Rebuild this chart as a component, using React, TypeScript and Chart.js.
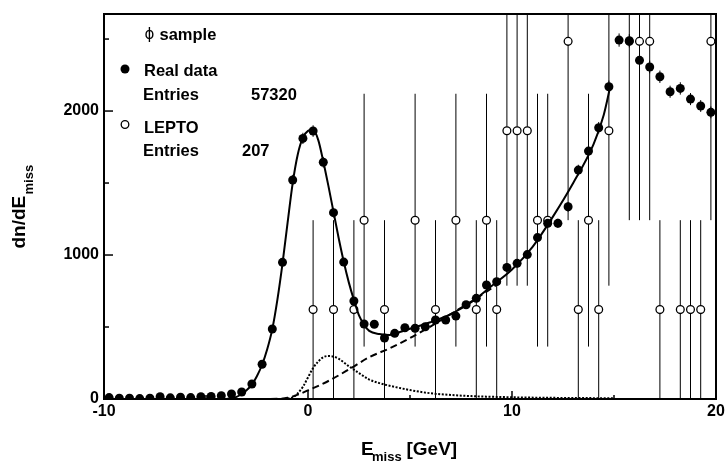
import React, { useEffect, useRef } from "react";
import { Chart, registerables } from "chart.js";

Chart.register(...registerables);

// ---- data ----
const binCenters = [
  -9.75, -9.25, -8.75, -8.25, -7.75, -7.25, -6.75, -6.25, -5.75, -5.25,
  -4.75, -4.25, -3.75, -3.25, -2.75, -2.25, -1.75, -1.25, -0.75, -0.25,
  0.25, 0.75, 1.25, 1.75, 2.25, 2.75, 3.25, 3.75, 4.25, 4.75,
  5.25, 5.75, 6.25, 6.75, 7.25, 7.75, 8.25, 8.75, 9.25, 9.75,
  10.25, 10.75, 11.25, 11.75, 12.25, 12.75, 13.25, 13.75, 14.25, 14.75,
  15.25, 15.75, 16.25, 16.75, 17.25, 17.75, 18.25, 18.75, 19.25, 19.75,
];
const realData = [
  10, 5, 5, 3, 5, 16, 8, 12, 10, 16,
  18, 23, 35, 49, 104, 241, 486, 949, 1521, 1810,
  1861, 1644, 1294, 951, 681, 521, 519, 424, 456, 495,
  491, 502, 549, 549, 576, 655, 699, 792, 815, 914,
  942, 1003, 1121, 1220, 1220, 1335, 1590, 1722, 1884, 2169,
  2493, 2488, 2352, 2306, 2238, 2134, 2157, 2083, 2035, 1991,
];
const realErr = [
  3, 2, 2, 2, 2, 4, 3, 3, 3, 4,
  4, 4, 5, 6, 9, 14, 20, 28, 36, 39,
  40, 37, 33, 28, 24, 21, 21, 19, 20, 20,
  20, 21, 22, 22, 22, 24, 24, 26, 26, 28,
  28, 29, 31, 32, 32, 34, 37, 38, 40, 43,
  46, 46, 45, 44, 43, 42, 43, 42, 41, 41,
];

const leptoX = [
  0.25, 1.25, 2.25, 2.75, 3.75, 5.25, 6.25, 7.25, 8.25, 8.75,
  9.25, 9.75, 10.25, 10.75, 11.25, 11.75, 12.75, 13.25, 13.75, 14.25,
  14.75, 15.75, 16.25, 16.75, 17.25, 18.25, 18.75, 19.25, 19.75,
];
const leptoY = [
  621, 621, 621, 1242, 621, 1242, 621, 1242, 621, 1242,
  621, 1863, 1863, 1863, 1242, 1242, 2484, 621, 1242, 621,
  1863, 2484, 2484, 2484, 621, 621, 621, 621, 2484,
];
const leptoErr = [
  621, 621, 621, 878, 621, 878, 621, 878, 621, 878,
  621, 1076, 1076, 1076, 878, 878, 1242, 621, 878, 621,
  1076, 1242, 1242, 1242, 621, 621, 621, 621, 1242,
];

const fitTotalX = [
  -4.0, -3.5, -3.25, -3.0, -2.75, -2.5, -2.25, -2.0, -1.75, -1.5,
  -1.25, -1.0, -0.75, -0.5, -0.25, 0.0, 0.25, 0.5, 0.75, 1.0,
  1.25, 1.5, 1.75, 2.0, 2.25, 2.5, 2.75, 3.0, 3.5, 4.0,
  4.5, 5.0, 6.0, 7.0, 8.0, 9.0, 10.0, 11.0, 12.0, 13.0,
  14.0, 14.5, 14.8,
];
const fitTotalY = [
  0, 15, 35, 62, 100, 160, 238, 345, 485, 690,
  940, 1225, 1500, 1700, 1815, 1862, 1870, 1800, 1650, 1480,
  1300, 1120, 955, 810, 688, 580, 515, 473, 451, 445,
  465, 488, 533, 590, 672, 785, 900, 1055, 1265, 1500,
  1770, 1975, 2160,
];

const fitBgX = [-4.0, -2.0, -1.5, -1.0, -0.5, 0.0, 1.0, 2.0, 3.0, 4.0, 5.0, 6.0, 7.0, 8.0, 9.0, 9.3];
const fitBgY = [0, 0, 1, 8, 30, 60, 125, 205, 290, 352, 423, 503, 590, 676, 769, 800];

const fitSigX = [
  -1.0, -0.75, -0.5, -0.25, 0.0, 0.25, 0.5, 0.75, 1.0, 1.25,
  1.5, 2.0, 2.5, 3.0, 3.5, 4.0, 5.0, 6.0, 7.0, 8.0,
  10.0, 12.0, 14.0, 15.0,
];
const fitSigY = [
  2, 12, 40, 85, 150, 215, 260, 290, 299, 295,
  280, 228, 180, 135, 110, 92, 62, 40, 28, 20,
  12, 8, 6, 5,
];

const xTickValues = [-10, 0, 10, 20];
const xMinorTickValues = [-5, 5, 15];
const yTickValues = [0, 1000, 2000];
const yMinorTickValues = [500, 1500, 2500];

const realEntries = "57320";
const leptoEntries = "207";

const FONT = '"Liberation Sans", Arial, Helvetica, sans-serif';

const rootStylePlugin = {
  id: "rootStyle",
  beforeDatasetsDraw(chart: any) {
    const { ctx, chartArea: a } = chart;
    const x = chart.scales.x;
    const y = chart.scales.y;
    ctx.save();
    ctx.beginPath();
    ctx.rect(a.left, a.top, a.right - a.left, a.bottom - a.top);
    ctx.clip();
    ctx.strokeStyle = "#000";
    ctx.lineWidth = 1;
    leptoX.forEach((xv, i) => {
      const px = x.getPixelForValue(xv);
      ctx.beginPath();
      ctx.moveTo(px, y.getPixelForValue(Math.max(0, leptoY[i] - leptoErr[i])));
      ctx.lineTo(px, y.getPixelForValue(leptoY[i] + leptoErr[i]));
      ctx.stroke();
    });
    binCenters.forEach((xv, i) => {
      const px = x.getPixelForValue(xv);
      ctx.beginPath();
      ctx.moveTo(px, y.getPixelForValue(Math.max(0, realData[i] - realErr[i])));
      ctx.lineTo(px, y.getPixelForValue(realData[i] + realErr[i]));
      ctx.stroke();
    });
    ctx.restore();
  },
  afterDraw(chart: any) {
    const { ctx, chartArea: a } = chart;
    const x = chart.scales.x;
    const y = chart.scales.y;
    ctx.save();
    ctx.strokeStyle = "#000";
    ctx.fillStyle = "#000";
    // frame
    ctx.lineWidth = 2;
    ctx.strokeRect(a.left, a.top, a.right - a.left, a.bottom - a.top);
    // inside ticks
    ctx.lineWidth = 1.5;
    yTickValues.forEach((v) => {
      const py = y.getPixelForValue(v);
      ctx.beginPath();
      ctx.moveTo(a.left, py);
      ctx.lineTo(a.left + 9, py);
      ctx.stroke();
    });
    yMinorTickValues.forEach((v) => {
      const py = y.getPixelForValue(v);
      ctx.beginPath();
      ctx.moveTo(a.left, py);
      ctx.lineTo(a.left + 5, py);
      ctx.stroke();
    });
    xTickValues.forEach((v) => {
      const px = x.getPixelForValue(v);
      ctx.beginPath();
      ctx.moveTo(px, a.bottom);
      ctx.lineTo(px, a.bottom - 8);
      ctx.stroke();
    });
    xMinorTickValues.forEach((v) => {
      const px = x.getPixelForValue(v);
      ctx.beginPath();
      ctx.moveTo(px, a.bottom);
      ctx.lineTo(px, a.bottom - 4);
      ctx.stroke();
    });

    // legend
    ctx.textAlign = "left";
    ctx.textBaseline = "alphabetic";
    ctx.font = `15px "DejaVu Sans", ${FONT}`;
    ctx.fillText("\u03D5", 144.5, 38.5);
    ctx.font = `bold 16.5px ${FONT}`;
    ctx.fillText("sample", 159.5, 39.5);
    ctx.beginPath();
    ctx.arc(125, 69, 4.5, 0, Math.PI * 2);
    ctx.fill();
    ctx.fillText("Real data", 144, 75.5);
    ctx.fillText("Entries", 143, 100);
    ctx.fillText(realEntries, 251, 100);
    ctx.beginPath();
    ctx.arc(125, 124.5, 3.8, 0, Math.PI * 2);
    ctx.fillStyle = "#fff";
    ctx.fill();
    ctx.lineWidth = 1.3;
    ctx.stroke();
    ctx.fillStyle = "#000";
    ctx.fillText("LEPTO", 144, 132.5);
    ctx.fillText("Entries", 143, 156);
    ctx.fillText(leptoEntries, 242, 156);

    // x title
    ctx.font = `bold 19px ${FONT}`;
    ctx.fillText("E", 361, 454.5);
    ctx.font = `bold 13px ${FONT}`;
    ctx.fillText("miss", 372, 461);
    ctx.font = `bold 19px ${FONT}`;
    ctx.fillText("[GeV]", 406.5, 454.5);

    // y title
    ctx.save();
    ctx.translate(25, 248.5);
    ctx.rotate(-Math.PI / 2);
    ctx.font = `bold 19px ${FONT}`;
    ctx.fillText("dn/dE", 0, 0);
    ctx.font = `bold 13px ${FONT}`;
    ctx.fillText("miss", 54, 8);
    ctx.restore();

    ctx.restore();
  },
};

export default function App() {
  const canvasRef = useRef<HTMLCanvasElement | null>(null);

  useEffect(() => {
    if (!canvasRef.current) return;
    const pts = (xs: number[], ys: number[]) => xs.map((v, i) => ({ x: v, y: ys[i] }));
    const chart = new Chart(canvasRef.current, {
      type: "scatter",
      data: {
        datasets: [
          {
            type: "scatter",
            label: "Real data",
            data: pts(binCenters, realData),
            pointRadius: 4.5,
            pointHoverRadius: 4.5,
            pointBackgroundColor: "#000",
            pointBorderWidth: 0,
            borderColor: "#000",
            order: 0,
          },
          {
            type: "line",
            label: "fit",
            data: pts(fitTotalX, fitTotalY),
            borderColor: "#000",
            borderWidth: 2,
            pointRadius: 0,
            cubicInterpolationMode: "monotone",
            fill: false,
            order: 1,
          },
          {
            type: "line",
            label: "background",
            data: pts(fitBgX, fitBgY),
            borderColor: "#000",
            borderWidth: 2,
            borderDash: [7, 4],
            pointRadius: 0,
            cubicInterpolationMode: "monotone",
            fill: false,
            order: 2,
          },
          {
            type: "line",
            label: "signal",
            data: pts(fitSigX, fitSigY),
            borderColor: "#000",
            borderWidth: 2,
            borderDash: [2, 1.6],
            pointRadius: 0,
            cubicInterpolationMode: "monotone",
            fill: false,
            order: 3,
          },
          {
            type: "scatter",
            label: "LEPTO",
            data: pts(leptoX, leptoY),
            pointRadius: 3.9,
            pointHoverRadius: 3.9,
            pointBackgroundColor: "#fff",
            pointBorderColor: "#000",
            pointBorderWidth: 1.3,
            order: 4,
          },
        ],
      },
      options: {
        animation: false,
        responsive: false,
        devicePixelRatio: 1,
        events: [],
        layout: { padding: { left: 0, right: 9, top: 14, bottom: 0 } },
        plugins: {
          legend: { display: false },
          tooltip: { enabled: false },
          title: { display: false },
        },
        scales: {
          x: {
            type: "linear",
            position: "bottom",
            min: -10,
            max: 20,
            grid: { display: false, drawTicks: false },
            border: { display: false },
            afterBuildTicks: (s: any) => {
              s.ticks = xTickValues.map((v) => ({ value: v }));
            },
            afterFit: (s: any) => {
              s.height = 63;
              s.paddingLeft = 0;
              s.paddingRight = 0;
            },
            ticks: {
              color: "#000",
              font: { family: FONT, size: 16, weight: "bold" },
              padding: 3,
              maxRotation: 0,
              minRotation: 0,
              autoSkip: false,
              callback: (v: any) => String(v),
            },
          },
          y: {
            type: "linear",
            position: "left",
            min: 0,
            max: 2674,
            grid: { display: false, drawTicks: false },
            border: { display: false },
            afterBuildTicks: (s: any) => {
              s.ticks = yTickValues.map((v) => ({ value: v }));
            },
            afterFit: (s: any) => {
              s.width = 104;
              s.paddingTop = 0;
              s.paddingBottom = 0;
            },
            ticks: {
              color: "#000",
              font: { family: FONT, size: 16, weight: "bold" },
              padding: 5,
              autoSkip: false,
              callback: (v: any) => String(v),
            },
          },
        },
      },
      plugins: [rootStylePlugin],
    } as any);
    return () => chart.destroy();
  }, []);

  return (
    <div style={{ position: "fixed", left: 0, top: 0, width: 725, height: 462, background: "#fff" }}>
      <canvas ref={canvasRef} width={725} height={462} style={{ width: 725, height: 462, display: "block" }} />
    </div>
  );
}
